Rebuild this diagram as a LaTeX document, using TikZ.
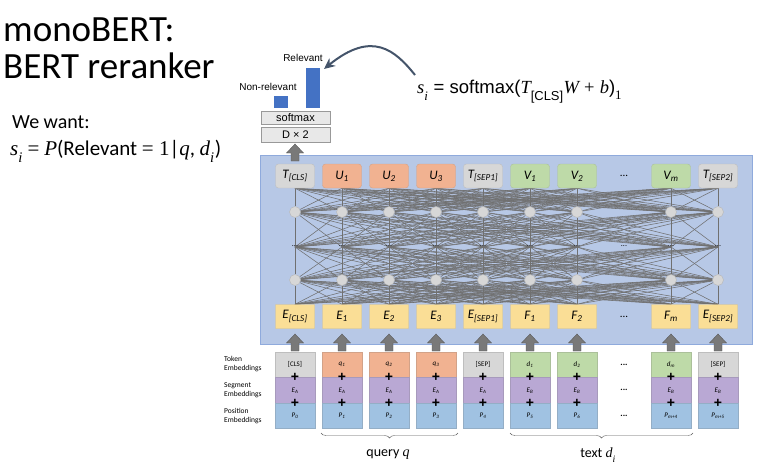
\documentclass[tikz,border=0pt]{standalone}
\usepackage{fontspec}
\setmainfont{Carlito}
\newfontfamily\arialfont{Liberation Sans}
\newfontfamily\timesfont{Liberation Serif}
\usetikzlibrary{decorations.pathreplacing,backgrounds,arrows.meta}
\definecolor{panelfill}{RGB}{183,200,230}
\definecolor{panelline}{RGB}{143,170,220}
\definecolor{tokgray}{RGB}{215,215,215}
\definecolor{tokorange}{RGB}{241,178,145}
\definecolor{tokgreen}{RGB}{190,218,168}
\definecolor{embyellow}{RGB}{250,222,150}
\definecolor{segpurple}{RGB}{185,168,212}
\definecolor{posblue}{RGB}{160,194,226}
\definecolor{barblue}{RGB}{68,114,196}
\definecolor{curveblue}{RGB}{68,84,106}
\definecolor{meshgray}{RGB}{112,112,112}
\newcommand\tm[1]{{\timesfont\itshape #1}}
\newcommand\lowidx[1]{\raisebox{-0.45ex}{\textsubscript{#1}}}
\newcommand\sub[2]{\textit{#1}\textsubscript{\textit{#2}}}
\begin{document}
\begin{tikzpicture}[x=1pt,y=-1pt,
  tbox/.style={rounded corners=3pt,minimum width=39pt,minimum height=24pt,inner sep=0pt,
    fill=#1,draw=#1!85!black!90,font=\fontsize{13}{13}\selectfont\itshape},
  ebox/.style={minimum width=40pt,minimum height=25.5pt,inner sep=0pt,
    fill=#1,draw=#1!85!black!90,font=\fontsize{7}{7}\selectfont},
  dot/.style={circle,fill=tokgray,draw=tokgray!85!black,minimum size=11pt,inner sep=0pt},
  mesh/.style={draw=meshgray,line width=0.55pt},
  plus/.style={font=\arialfont\bfseries\fontsize{14}{14}\selectfont,inner sep=0pt},
  smallbox/.style={draw=gray!80,fill=gray!18,minimum width=69pt,inner sep=0pt,font=\arialfont\fontsize{11}{11}\selectfont},
  uparr/.pic={\draw[fill=gray!95!black,draw=black!65] (-4,0) -- (-4,-8) -- (-8.5,-8) -- (0,-17)
    -- (8.5,-8) -- (4,-8) -- (4,0) -- cycle;}]
\useasboundingbox (0,0) rectangle (778,474);

\node[anchor=base west,inner sep=0pt,font=\fontsize{37}{37}\selectfont] (title) at (3,41) {monoBERT:};
\node[anchor=base west,inner sep=0pt,font=\fontsize{37}{37}\selectfont] (subtitle) at (3,78) {BERT reranker};
\node[anchor=base west,inner sep=0pt,font=\fontsize{20}{20}\selectfont] (want) at (12,128) {We want:};
\node[anchor=base west,inner sep=0pt,font=\fontsize{21}{21}\selectfont] (goal) at (10,155)
  {\tm{s}\lowidx{\tm{i}} {\timesfont =} \tm{P}(Relevant {\timesfont = 1}|\tm{q}, \tm{d}\lowidx{\tm{i}})};

\node[smallbox,minimum height=13pt] (soft) at (295.5,117.5) {softmax};
\node[smallbox,minimum height=15pt] (dense) at (295.5,134.5) {D × 2};
\fill[barblue] (274,96) rectangle (288,108);
\fill[barblue] (306,68) rectangle (320,108);
\coordinate (relbar) at (324,69);
\node[font=\arialfont\fontsize{10}{10}\selectfont] (nonrel) at (268,87) {Non-relevant};
\node[font=\arialfont\fontsize{10}{10}\selectfont] (rel) at (303,58) {Relevant};
\node[anchor=base west,inner sep=0pt,font=\arialfont\fontsize{18.5}{18.5}\selectfont] (score) at (417,93)
  {\tm{s}\lowidx{\tm{i}} = softmax(\tm{T}\lowidx{[CLS]}\tm{W} {\timesfont +} \tm{b}){\timesfont\lowidx{1}}};
\coordinate (curvestart) at (415,75);
\draw[curveblue,line width=2pt,-{Stealth[length=11pt,width=10pt]}] (curvestart)
  .. controls (395,50) and (372,30) .. (relbar);
\pic at (295,161) {uparr};

\foreach \i/\t/\c in {0/{T\textsubscript{[CLS]}}/tokgray,1/{U\textsubscript{1}}/tokorange,
  2/{U\textsubscript{2}}/tokorange,3/{U\textsubscript{3}}/tokorange,4/{T\textsubscript{[SEP1]}}/tokgray,
  5/{V\textsubscript{1}}/tokgreen,6/{V\textsubscript{2}}/tokgreen,8/{V\textsubscript{m}}/tokgreen,
  9/{T\textsubscript{[SEP2]}}/tokgray}
  \node[tbox=\c] (t\i) at (295+47*\i,176) {\t};
\foreach \i/\t in {0/{E\textsubscript{[CLS]}},1/{E\textsubscript{1}},2/{E\textsubscript{2}},
  3/{E\textsubscript{3}},4/{E\textsubscript{[SEP1]}},5/{F\textsubscript{1}},6/{F\textsubscript{2}},
  8/{F\textsubscript{m}},9/{E\textsubscript{[SEP2]}}}
  \node[tbox=embyellow,rounded corners=0.5pt] (e\i) at (295+47*\i,316.5) {\t};
\node[font=\fontsize{11}{11}\selectfont] (tdots) at (624,176) {...};
\node[font=\fontsize{11}{11}\selectfont] (edots) at (624,316.5) {...};

\foreach \i in {0,...,6,8,9} {
  \node[dot] (a\i) at (295+47*\i,212) {};
  \node[dot] (b\i) at (295+47*\i,280) {};
  \coordinate (m\i) at (295+47*\i,247);
}
\foreach \i in {0,...,9}
  \node[font=\fontsize{8}{8}\selectfont,inner sep=0pt] (md\i) at (295+47*\i,246) {...};

\begin{pgfonlayer}{background}
\draw[fill=panelfill,draw=panelline] (260,155) rectangle (752,344);
\foreach \i in {0,...,6,8,9}
  \foreach \j in {0,...,6,8,9} {
    \draw[mesh] (t\i.south) -- (a\j);
    \draw[mesh] (a\i) -- (m\j);
    \draw[mesh] (m\i) -- (b\j);
    \draw[mesh] (b\i) -- (e\j.north);
  }
\end{pgfonlayer}

\foreach \i in {0,...,6,8,9}
  \pic at (295+47*\i,351) {uparr};

\foreach \i/\tok/\c/\seg/\pos in {0/{[CLS]}/tokgray/{\sub{E}{A}}/{\sub{P}{0}},
  1/{\sub{q}{1}}/tokorange/{\sub{E}{A}}/{\sub{P}{1}},2/{\sub{q}{2}}/tokorange/{\sub{E}{A}}/{\sub{P}{2}},
  3/{\sub{q}{3}}/tokorange/{\sub{E}{A}}/{\sub{P}{3}},4/{[SEP]}/tokgray/{\sub{E}{A}}/{\sub{P}{4}},
  5/{\sub{d}{1}}/tokgreen/{\sub{E}{B}}/{\sub{P}{5}},6/{\sub{d}{2}}/tokgreen/{\sub{E}{B}}/{\sub{P}{6}},
  8/{\sub{d}{m}}/tokgreen/{\sub{E}{B}}/{\sub{P}{m+4}},9/{[SEP]}/tokgray/{\sub{E}{B}}/{\sub{P}{m+5}}} {
  \node[ebox=\c] (tok\i) at (295+47*\i,364.75) {\tok};
  \node[ebox=segpurple] (seg\i) at (295+47*\i,390.25) {\seg};
  \node[ebox=posblue] (pos\i) at (295+47*\i,415.75) {\pos};
  \node[plus] at (tok\i.south) {+};
  \node[plus] at (seg\i.south) {+};
}
\foreach \y in {364.75,390.25,415.75}
  \node[font=\bfseries\fontsize{9}{9}\selectfont] at (624,\y) {...};

\node[anchor=west,align=left,font=\fontsize{7.5}{9}\selectfont,inner sep=0pt] (toklab) at (224,364) {Token\\Embeddings};
\node[anchor=west,align=left,font=\fontsize{7.5}{9}\selectfont,inner sep=0pt] (seglab) at (224,390) {Segment\\Embeddings};
\node[anchor=west,align=left,font=\fontsize{7.5}{9}\selectfont,inner sep=0pt] (poslab) at (224,416) {Position\\Embeddings};

\draw[gray!70!black,decorate,decoration={brace,mirror,amplitude=5pt}] (321,433) -- (458,433);
\draw[gray!70!black,decorate,decoration={brace,mirror,amplitude=5pt}] (510,433) -- (693,433);
\node[font=\fontsize{14}{14}\selectfont] (query) at (388,455) {query \tm{q}};
\node[font=\fontsize{14}{14}\selectfont] (text) at (598,455) {text \tm{d}\lowidx{\tm{i}}};
\end{tikzpicture}
\end{document}
